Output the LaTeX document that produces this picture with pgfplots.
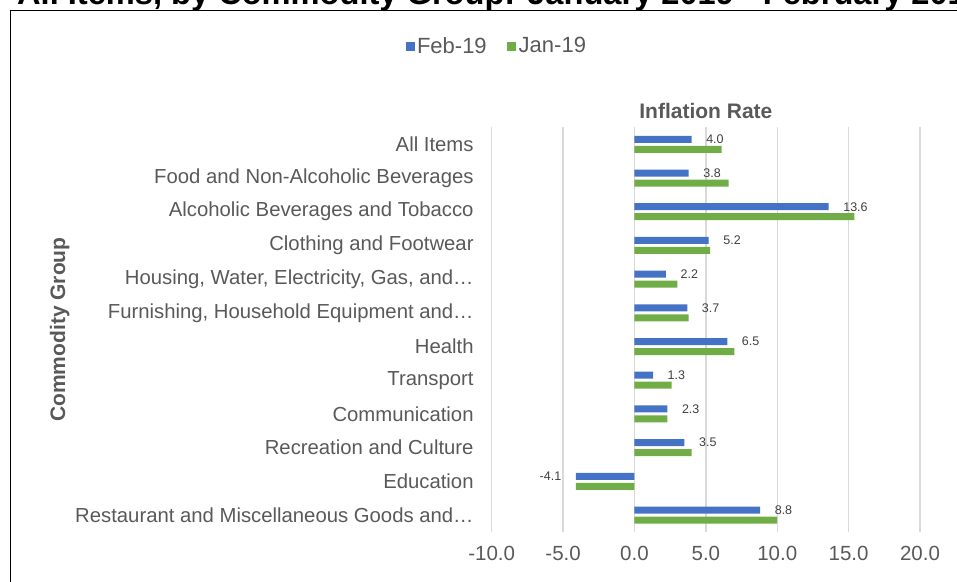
\documentclass[border=0pt]{standalone}
\usepackage{pgfplots}
\pgfplotsset{compat=1.18}
\usepackage{fontspec}
\setmainfont{Liberation Sans}
\definecolor{cblue}{HTML}{4472C4}
\definecolor{cgreen}{HTML}{70AD47}
\definecolor{ctext}{HTML}{595959}
\definecolor{cgrid}{HTML}{D9D9D9}
\definecolor{clabel}{HTML}{404040}
\begin{document}
\begin{tikzpicture}
\useasboundingbox (0,0) rectangle (957pt,581pt);
\begin{scope}
\clip (0,0) rectangle (957pt,581pt);
\node[anchor=base west, font=\bfseries\fontsize{32.6}{38}\selectfont, inner sep=0pt] at (17pt,576pt) {All Items, by Commodity Group: January 2019 - February 2019};
\draw[line width=1.3pt] (10.5pt,-10pt) -- (10.5pt,570.5pt) -- (975pt,570.5pt);
\end{scope}
\begin{axis}[
  at={(491.7pt,49.15pt)}, anchor=south west,
  scale only axis, width=428.3pt, height=404.4pt,
  xbar, bar width=7pt,
  xmin=-10, xmax=20,
  ymin=-0.5, ymax=11.5, y dir=reverse,
  xtick={-10,-5,...,20},
  ytick={0,...,11},
  yticklabels={All Items, Food and Non-Alcoholic Beverages, Alcoholic Beverages and Tobacco, Clothing and Footwear, {Housing, Water, Electricity, Gas, and…}, {Furnishing, Household Equipment and…}, Health, Transport, Communication, Recreation and Culture, Education, Restaurant and Miscellaneous Goods and…},
  xticklabel={\pgfmathprintnumber[fixed,fixed zerofill,precision=1,assume math mode=true]{\tick}},
  xmajorgrids, major grid style={cgrid, line width=1.3pt},
  axis line style={draw=none},
  major tick length=0pt,
  tick label style={font=\fontsize{20.5}{24}\selectfont, text=ctext},
  yticklabel style={font=\fontsize{20.3}{24}\selectfont, xshift=-14.6pt},
  xticklabel style={yshift=-10.4pt},
  legend style={at={(0.0124,1.2014)}, anchor=center, legend columns=2, draw=none, fill=none,
    font=\fontsize{22}{26}\selectfont, text=ctext,
    nodes={inner xsep=2.5pt, inner ysep=1pt},
    /tikz/every even column/.append style={column sep=18pt}},
]
\addplot[fill=cblue, draw=none, bar shift=5pt,
  legend image code/.code={\fill[cblue] (-0.5pt,-4.5pt) rectangle (8.5pt,4.5pt);},
  point meta=x, nodes near coords={\pgfmathprintnumber[fixed,fixed zerofill,precision=1,assume math mode=true]{\pgfplotspointmeta}},
  nodes near coords align={horizontal},
  every node near coord/.append style={font=\fontsize{12.5}{14}\selectfont, text=clabel, inner xsep=14.5pt}]
  coordinates {(4.0,0) (3.8,1) (13.6,2) (5.2,3) (2.2,4) (3.7,5) (6.5,6) (1.3,7) (2.3,8) (3.5,9) (-4.1,10) (8.8,11)};
\addplot[fill=cgreen, draw=none, bar shift=-5pt,
  legend image code/.code={\fill[cgreen] (-0.5pt,-4.5pt) rectangle (8.5pt,4.5pt);}]
  coordinates {(6.1,0) (6.6,1) (15.4,2) (5.3,3) (3.0,4) (3.8,5) (7.0,6) (2.6,7) (2.3,8) (4.0,9) (-4.1,10) (10.0,11)};
\legend{Feb-19, Jan-19}
\end{axis}
\node[anchor=base, font=\bfseries\fontsize{21}{25}\selectfont, text=ctext] at (705.85pt,462.5pt) {Inflation Rate};
\node[rotate=90, anchor=base, font=\bfseries\fontsize{21}{25}\selectfont, text=ctext] at (65pt,251.5pt) {Commodity Group};
\end{tikzpicture}
\end{document}
